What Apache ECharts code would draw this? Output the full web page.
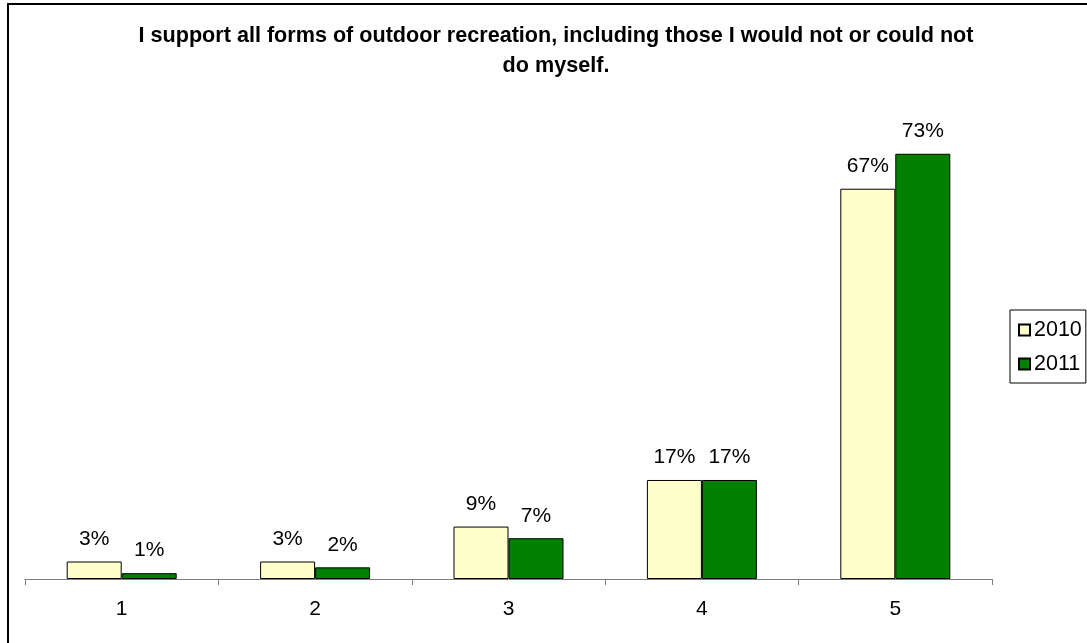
<!DOCTYPE html>
<html>
<head>
<meta charset="utf-8">
<script src="https://cdn.jsdelivr.net/npm/echarts@6/dist/echarts.min.js"></script>
<style>
  html, body { margin: 0; padding: 0; background: #fff; }
  #chart { width: 1087px; height: 643px; }
</style>
</head>
<body>
<div id="chart"></div>
<script>
// Survey response scale (1 = strongly disagree ... 5 = strongly agree)
const categories = ['1', '2', '3', '4', '5'];
// Share of respondents per answer, in percent
const values2010 = [3, 3, 9, 17, 67];
const values2011 = [1, 2, 7, 17, 73];
const seriesNames = ['2010', '2011'];

const FONT = '"Liberation Sans", Arial, sans-serif';

const chart = echarts.init(document.getElementById('chart'), null, { renderer: 'canvas' });

const labelStyle = {
  show: true,
  position: 'top',
  distance: 12,
  formatter: '{c}%',
  color: '#000',
  fontSize: 21,
  fontFamily: FONT
};

chart.setOption({
  backgroundColor: '#fff',
  animation: false,
  title: {
    text: 'I support all forms of outdoor recreation, including those I would not or could not\ndo myself.',
    left: 551,
    top: 16,
    textAlign: 'center',
    textStyle: {
      fontFamily: FONT,
      fontSize: 21.6,
      fontWeight: 'bold',
      color: '#000',
      lineHeight: 30
    }
  },
  graphic: [{
    type: 'rect',
    silent: true,
    z: -1,
    shape: { x: 8, y: 4, width: 1100, height: 700 },
    style: { fill: 'none', stroke: '#000', lineWidth: 2 }
  }],
  legend: {
    orient: 'vertical',
    left: 1010,
    top: 310,
    padding: [9, 4, 8, 8],
    itemGap: 12,
    itemWidth: 11,
    itemHeight: 11,
    icon: 'rect',
    borderColor: '#000',
    borderWidth: 1,
    textStyle: { fontFamily: FONT, fontSize: 21.5, color: '#000', padding: [0, 0, 0, -1] },
    data: seriesNames
  },
  grid: { left: 25, top: 113, height: 466, right: 95 },
  xAxis: {
    type: 'category',
    data: categories,
    axisLine: { lineStyle: { color: '#7f7f7f', width: 1 } },
    axisTick: { show: true, length: 6, lineStyle: { color: '#7f7f7f' } },
    axisLabel: { margin: 20, color: '#000', fontSize: 21, fontFamily: FONT }
  },
  yAxis: {
    type: 'value',
    min: 0,
    max: 80,
    show: false,
    splitLine: { show: false }
  },
  series: [
    {
      name: seriesNames[0],
      type: 'bar',
      data: values2010,
      barWidth: 55,
      barGap: '0%',
      itemStyle: { color: '#FFFFCC', borderColor: '#000', borderWidth: 1 },
      label: labelStyle
    },
    {
      name: seriesNames[1],
      type: 'bar',
      data: values2011,
      barWidth: 55,
      barGap: '0%',
      itemStyle: { color: '#008000', borderColor: '#000', borderWidth: 1 },
      label: labelStyle
    }
  ]
});
</script>
</body>
</html>
